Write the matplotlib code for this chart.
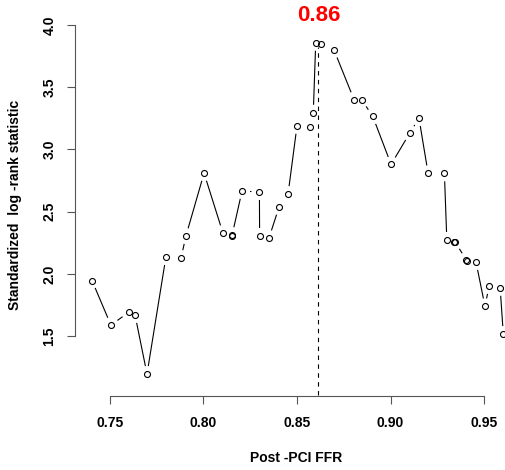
import matplotlib
matplotlib.use("Agg")
import matplotlib.pyplot as plt
import numpy as np
from matplotlib import rcParams

rcParams["font.family"] = ["Liberation Sans", "DejaVu Sans"]

# Post-PCI FFR cut-offs and their standardized log-rank statistic
ffr = [0.7404, 0.7505, 0.7602, 0.7634, 0.7698, 0.7799, 0.7880, 0.7906,
       0.8003, 0.8104, 0.8152, 0.8153, 0.8206, 0.8299, 0.8300, 0.8350,
       0.8404, 0.8452, 0.8500, 0.8570, 0.8587, 0.8600, 0.8628, 0.8698,
       0.8805, 0.8846, 0.8905, 0.9003, 0.9103, 0.9152, 0.9201, 0.9288,
       0.9301, 0.9340, 0.9345, 0.9406, 0.9409, 0.9457, 0.9505, 0.9527,
       0.9586, 0.9603]
stat = [1.946, 1.588, 1.693, 1.669, 1.195, 2.135, 2.127, 2.304,
        2.810, 2.328, 2.304, 2.312, 2.666, 2.658, 2.304, 2.288,
        2.537, 2.641, 3.190, 3.178, 3.295, 3.858, 3.845, 3.799,
        3.400, 3.400, 3.266, 2.880, 3.132, 3.252, 2.808, 2.808,
        2.272, 2.256, 2.256, 2.111, 2.107, 2.095, 1.739, 1.902,
        1.888, 1.516]

best_cut = 0.8614
best_label = "0.86"
x_ticks = [0.75, 0.80, 0.85, 0.90, 0.95]
y_ticks = [1.5, 2.0, 2.5, 3.0, 3.5, 4.0]

W, H = 505, 470
fig = plt.figure(figsize=(W / 100, H / 100), dpi=100)
ax = fig.add_axes([75 / W, (H - 396) / H, 430 / W, 382 / H])
ax.set_xlim(0.7313, 0.9612)
ax.set_ylim(1.018, 4.089)

# R style type="b": segments with a gap around each point
gap = 8.0
pts = ax.transData.transform(np.column_stack([ffr, stat]))
inv = ax.transData.inverted()
for p0, p1 in zip(pts[:-1], pts[1:]):
    d = p1 - p0
    dist = np.hypot(*d)
    if dist <= 2 * gap:
        continue
    u = d / dist
    a = inv.transform(p0 + u * gap)
    b = inv.transform(p1 - u * gap)
    ax.plot([a[0], b[0]], [a[1], b[1]], color="black", lw=0.8,
            solid_capstyle="butt", clip_on=False)

ax.plot(ffr, stat, linestyle="none", marker="o", markersize=4.3,
        markerfacecolor="none", markeredgecolor="black",
        markeredgewidth=0.8, zorder=3)

ax.plot([best_cut, best_cut], [1.03, 3.82], color="black", lw=0.8,
        linestyle=(0, (4, 4)))
ax.text(best_cut, 4.0 + 10 / 124.4, best_label, color="red", fontsize=16,
        fontweight="bold", ha="center", va="center", clip_on=False)

for s in ["top", "right"]:
    ax.spines[s].set_visible(False)
for s in ["left", "bottom"]:
    ax.spines[s].set_color("#555555")
    ax.spines[s].set_linewidth(0.8)
ax.spines["left"].set_bounds(1.5, 4.0)
ax.spines["bottom"].set_bounds(0.75, 0.95)

ax.set_xticks(x_ticks)
ax.set_xticklabels([f"{v:.2f}" for v in x_ticks], fontweight="bold")
ax.set_yticks(y_ticks)
ax.set_yticklabels([f"{v:.1f}" for v in y_ticks], fontweight="bold",
                   rotation=90, va="center")
ax.tick_params(axis="both", direction="out", length=5.5, width=0.8,
               color="#555555", labelsize=10)
ax.tick_params(axis="x", pad=9)
ax.tick_params(axis="y", pad=8)

fig.text(296 / W, 1 - 458 / H, "Post -PCI FFR", fontsize=10,
         fontweight="bold", ha="center", va="center")
fig.text(15 / W, 1 - 205 / H, "Standardized  log -rank statistic",
         fontsize=10, fontweight="bold", ha="center", va="center",
         rotation=90)

fig.savefig("out.png", dpi=100)
